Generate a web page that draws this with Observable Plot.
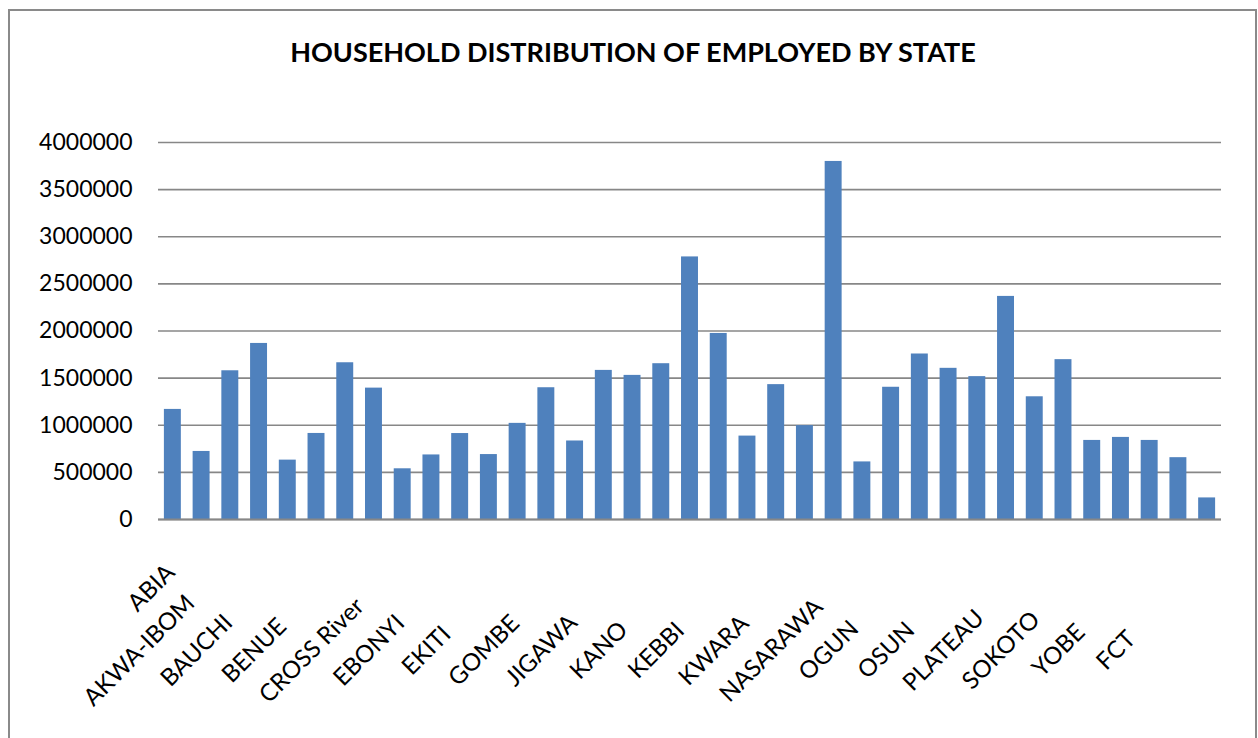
<!DOCTYPE html>
<html>
<head>
<meta charset="utf-8">
<script src="https://cdn.jsdelivr.net/npm/d3@7"></script>
<script src="https://cdn.jsdelivr.net/npm/@observablehq/plot@0.6"></script>
<style>
  html, body { margin: 0; padding: 0; background: #ffffff; overflow: hidden; }
  #page { position: relative; width: 1258px; height: 738px; overflow: hidden; font-family: Lato, "Open Sans", sans-serif; color: #000; }
  #frame { position: absolute; left: 8px; top: 9px; width: 1249px; height: 800px; border: 2px solid #8a8a8a; box-sizing: border-box; pointer-events: none; }
  #title { position: relative; margin-left: 8px; width: 1250px; height: 80px; box-sizing: border-box; padding-top: 38px; line-height: 27px; font-size: 27px; font-weight: bold; text-align: center; white-space: nowrap; }
  #chart svg { display: block; }
</style>
</head>
<body>
<div id="page">
  <div id="frame"></div>
  <div id="title">HOUSEHOLD DISTRIBUTION OF EMPLOYED BY STATE</div>
  <div id="chart"></div>
</div>
<script>
// Categories (states, alphabetical; only every other label is printed on the axis)
const states = ["ABIA","ADAMAWA","AKWA-IBOM","ANAMBRA","BAUCHI","BAYELSA","BENUE","BORNO","CROSS River","DELTA","EBONYI","EDO","EKITI","ENUGU","GOMBE","IMO","JIGAWA","KADUNA","KANO","KATSINA","KEBBI","KOGI","KWARA","LAGOS","NASARAWA","NIGER","OGUN","ONDO","OSUN","OYO","PLATEAU","RIVERS","SOKOTO","TARABA","YOBE","ZAMFARA","FCT"];
// Employed household members per state
const employed = [1168000,722000,1578000,1868000,630000,913000,1663000,1394000,538000,685000,912000,689000,1020000,1398000,833000,1582000,1529000,1653000,2786000,1974000,885000,1431000,996000,3799000,611000,1403000,1756000,1604000,1516000,2367000,1302000,1696000,839000,871000,839000,656000,229000];
// Y-axis tick values
const yTicks = [0,500000,1000000,1500000,2000000,2500000,3000000,3500000,4000000];
// Category labels that are printed
const shownLabels = states.filter((d, i) => i % 2 === 0);

const data = states.map((s, i) => ({state: s, value: employed[i]}));

const gridColor = "#878787";
const barColor = "#4f81bd";
const fs = 23;
const labelFs = 24;

const chart = Plot.plot({
  width: 1258,
  height: 658,
  marginTop: 62,
  marginBottom: 219,
  marginLeft: 158,
  marginRight: 37,
  style: {fontFamily: "Lato, 'Open Sans', sans-serif", fontSize: fs + "px", color: "#000", background: "transparent"},
  x: {domain: states, paddingInner: 0.41, paddingOuter: 0.205, align: 0.5, round: false, axis: null},
  y: {domain: [0, 4000000], axis: null},
  marks: [
    Plot.gridY(yTicks, {stroke: gridColor, strokeOpacity: 1, strokeWidth: 1.6}),
    Plot.barY(data, {x: "state", y: "value", fill: barColor}),
    Plot.ruleY([0], {stroke: gridColor, strokeWidth: 2.2}),
    Plot.axisY(yTicks, {tickSize: 0, tickPadding: 26, tickFormat: d3.format("d"), fontSize: fs, label: null, fill: "#000"}),
    // first label sits with its end at the tick
    Plot.text([shownLabels[0]], {x: d => d, text: d => d, frameAnchor: "bottom", rotate: -45, textAnchor: "end", lineAnchor: "middle", dx: -2, dy: 49, fontSize: labelFs, fill: "#000"}),
    // remaining labels are centred along the 45° line below the tick
    Plot.text(shownLabels.slice(1), {x: d => d, text: d => d, frameAnchor: "bottom", rotate: -45, textAnchor: "middle", lineAnchor: "middle", dx: -91, dy: 131, fontSize: labelFs, fill: "#000"})
  ]
});
document.getElementById("chart").appendChild(chart);
</script>
</body>
</html>
